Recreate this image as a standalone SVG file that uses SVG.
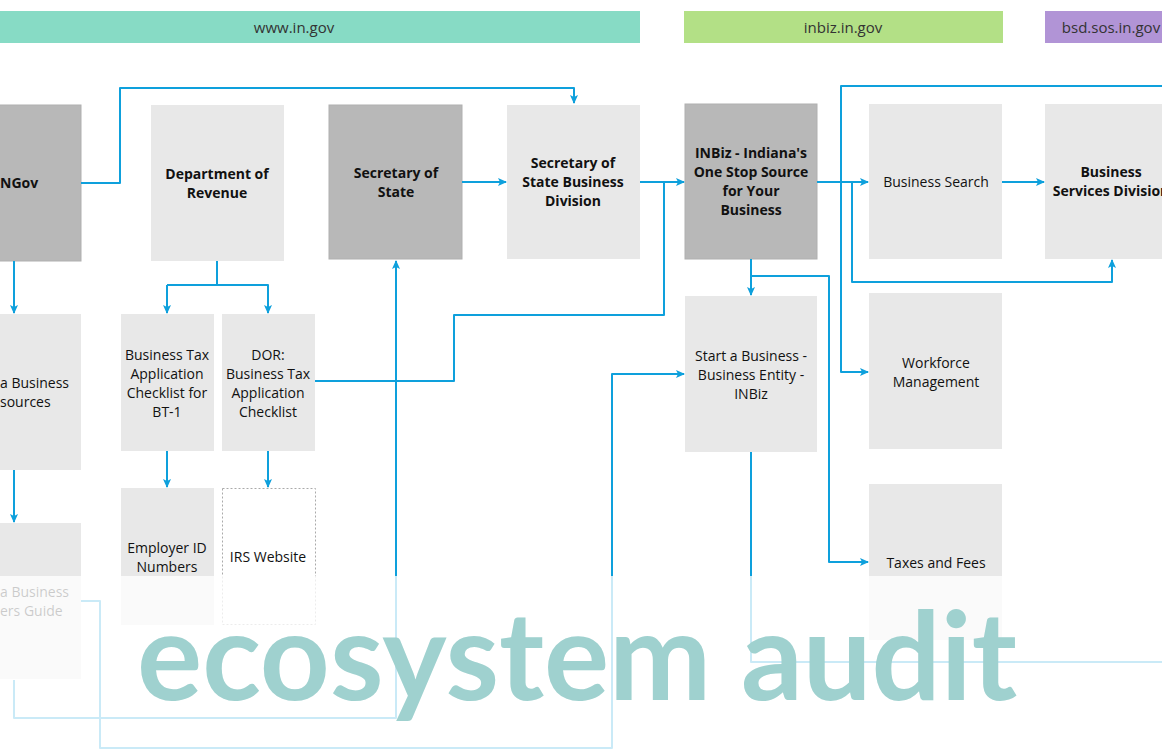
<svg xmlns="http://www.w3.org/2000/svg" width="1162" height="753" viewBox="0 0 1162 753">
<style>
.hdr{font-family:"Open Sans","Liberation Sans",sans-serif;font-size:15px;fill:#333;text-anchor:middle}
.lbl{font-family:"Open Sans","Liberation Sans",sans-serif;font-size:14px;fill:#111;text-anchor:middle}
.b{font-weight:bold}
.dark{fill:#b8b8b8;stroke:#b0b0b0;stroke-width:1}
.light{fill:#e8e8e8}
.con{fill:none;stroke:#0ea0dc;stroke-width:2;stroke-linejoin:round}
.arr{marker-end:url(#ah)}
.title{font-family:Lato,"Open Sans",sans-serif;font-weight:bold;font-size:122px;fill:#9fd1cf}
</style>
<defs>
<marker id="ah" markerWidth="10" markerHeight="10" refX="8" refY="5" orient="auto" markerUnits="userSpaceOnUse">
<path d="M0,1 L9,5 L0,9 L2,5 z" fill="#0ea0dc"/>
</marker>
</defs>
<rect width="1162" height="753" fill="#fff"/>
<g id="headers">
<rect x="0" y="11" width="640" height="32" fill="#87dbc5"/>
<text class="hdr" x="294" y="33">www.in.gov</text>
<rect x="684" y="11" width="319" height="32" fill="#b3e086"/>
<text class="hdr" x="843" y="33">inbiz.in.gov</text>
<rect x="1045" y="11" width="130" height="32" fill="#b194d6"/>
<text class="hdr" x="1111" y="33">bsd.sos.in.gov</text>
</g>
<g id="node-ingov"><rect class="dark" x="-53" y="105" width="134" height="156"/><text class="lbl b" x="0" y="188" style="text-anchor:start">NGov</text></g>
<g id="node-dor"><rect class="light" x="151" y="105" width="133" height="156"/><text class="lbl b" x="217" y="179">Department of</text><text class="lbl b" x="217" y="198">Revenue</text></g>
<g id="node-sos"><rect class="dark" x="329" y="105" width="133" height="154"/><text class="lbl b" x="396" y="178">Secretary of</text><text class="lbl b" x="396" y="197">State</text></g>
<g id="node-sosbd"><rect class="light" x="507" y="105" width="133" height="154"/><text class="lbl b" x="573" y="168">Secretary of</text><text class="lbl b" x="573" y="187">State Business</text><text class="lbl b" x="573" y="206">Division</text></g>
<g id="node-inbiz"><rect class="dark" x="685" y="104" width="132" height="155"/><text class="lbl b" x="751" y="158">INBiz - Indiana's</text><text class="lbl b" x="751" y="177">One Stop Source</text><text class="lbl b" x="751" y="196">for Your</text><text class="lbl b" x="751" y="215">Business</text></g>
<g id="node-search"><rect class="light" x="869" y="104" width="133" height="155"/><text class="lbl" x="936" y="187">Business Search</text></g>
<g id="node-bsd"><rect class="light" x="1045" y="104" width="133" height="155"/><text class="lbl b" x="1111" y="177">Business</text><text class="lbl b" x="1111" y="196">Services Division</text></g>
<g id="node-resources"><rect class="light" x="-53" y="314" width="134" height="156"/><text class="lbl" x="0" y="388" style="text-anchor:start">a Business</text><text class="lbl" x="0" y="407" style="text-anchor:start">sources</text></g>
<g id="node-bt1"><rect class="light" x="121" y="314" width="93" height="137"/><text class="lbl" x="167" y="360">Business Tax</text><text class="lbl" x="167" y="379">Application</text><text class="lbl" x="167" y="398">Checklist for</text><text class="lbl" x="167" y="417">BT-1</text></g>
<g id="node-dorcheck"><rect class="light" x="222" y="314" width="93" height="137"/><text class="lbl" x="268" y="360">DOR:</text><text class="lbl" x="268" y="379">Business Tax</text><text class="lbl" x="268" y="398">Application</text><text class="lbl" x="268" y="417">Checklist</text></g>
<g id="node-ein"><rect class="light" x="121" y="488" width="93" height="137"/><text class="lbl" x="167" y="553">Employer ID</text><text class="lbl" x="167" y="572">Numbers</text></g>
<g id="node-irs"><rect x="222.5" y="488.5" width="93" height="136" fill="#fff" stroke="#aaa" stroke-width="1" stroke-dasharray="2,2"/><text class="lbl" x="268" y="562">IRS Website</text></g>
<g id="node-guide"><rect class="light" x="-53" y="523" width="134" height="156"/><text class="lbl" x="0" y="597" style="text-anchor:start">a Business</text><text class="lbl" x="0" y="616" style="text-anchor:start">ers Guide</text></g>
<g id="node-start"><rect class="light" x="685" y="296" width="132" height="156"/><text class="lbl" x="751" y="361">Start a Business -</text><text class="lbl" x="751" y="380">Business Entity -</text><text class="lbl" x="751" y="399">INBiz</text></g>
<g id="node-workforce"><rect class="light" x="869" y="293" width="133" height="156"/><text class="lbl" x="936" y="368">Workforce</text><text class="lbl" x="936" y="387">Management</text></g>
<g id="node-taxes"><rect class="light" x="869" y="484" width="133" height="156"/><text class="lbl" x="936" y="568">Taxes and Fees</text></g>
<g id="connectors">
<path class="con arr" d="M81,183 H120 V88 H574 V103"/>
<path class="con arr" d="M462,182 H506"/>
<path class="con arr" d="M640,182 H684"/>
<path class="con" d="M315,381 H454 V315 H664 V182"/>
<path class="con arr" d="M817,182 H868"/>
<path class="con" d="M841,182 V86 H1162"/>
<path class="con arr" d="M841,182 V372 H868"/>
<path class="con arr" d="M852,182 V282 H1112 V260"/>
<path class="con arr" d="M751,259 V295"/>
<path class="con arr" d="M751,276 H829 V562 H868"/>
<path class="con arr" d="M1002,182 H1044"/>
<path class="con" d="M217,261 V285 H167"/>
<path class="con arr" d="M167,285 V313"/>
<path class="con arr" d="M217,285 H268 V313"/>
<path class="con arr" d="M167,451 V487"/>
<path class="con arr" d="M268,451 V487"/>
<path class="con arr" d="M14,261 V313"/>
<path class="con arr" d="M14,470 V522"/>
<path class="con arr" d="M14,680 V718 H396 V261"/>
<path class="con arr" d="M81,601 H100 V748 H612 V374 H684"/>
<path class="con" d="M751,452 V662 H1162"/>
</g>
<rect id="fade" x="0" y="576" width="1162" height="177" fill="#fff" opacity="0.78"/>
<text class="title" x="137" y="700">ecosystem audit</text>
</svg>
